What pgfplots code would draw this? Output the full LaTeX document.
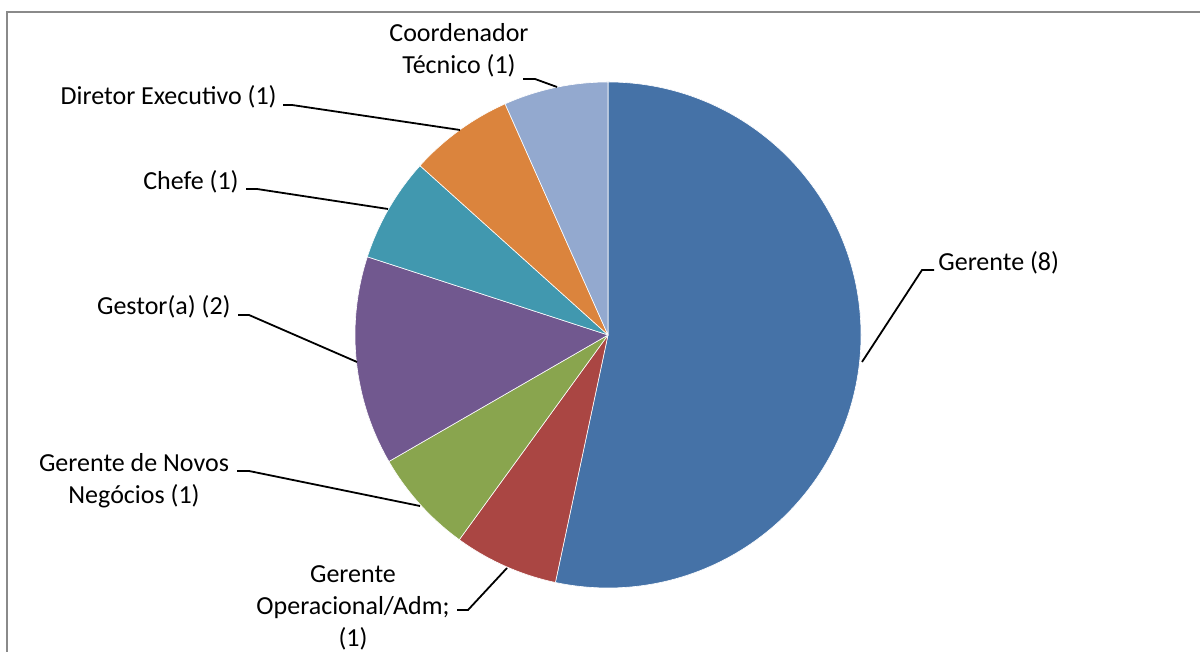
\documentclass[border=0pt]{standalone}
\usepackage{pgfplots}
\usepackage{pgfplotstable}
\pgfplotsset{compat=1.18}
\usepackage{fontspec}
\setmainfont{Carlito}
\definecolor{c0}{HTML}{4572A7}
\definecolor{c1}{HTML}{AA4643}
\definecolor{c2}{HTML}{89A54E}
\definecolor{c3}{HTML}{71588F}
\definecolor{c4}{HTML}{4198AF}
\definecolor{c5}{HTML}{DB843D}
\definecolor{c6}{HTML}{93A9CF}
\definecolor{framegray}{HTML}{8A8A8A}

\pgfplotstableread[col sep=comma]{
name,value
Gerente,8
Gerente Operacional/Adm;,1
Gerente de Novos Negocios,1
Gestor(a),2
Chefe,1
Diretor Executivo,1
Coordenador Tecnico,1
}\piedata

\begin{document}
\begin{tikzpicture}
% cumulative angles from the table (clockwise from 12 o'clock)
\def\total{0}
\pgfplotsforeachungrouped \i in {0,...,6}{%
  \pgfplotstablegetelem{\i}{value}\of\piedata
  \pgfmathsetmacro\total{\total+\pgfplotsretval}%
}
\def\startang{90}
\pgfplotsforeachungrouped \i in {0,...,6}{%
  \pgfplotstablegetelem{\i}{value}\of\piedata
  \pgfmathsetmacro\endang{\startang-360*\pgfplotsretval/\total}%
  \expandafter\xdef\csname sa\i\endcsname{\startang}%
  \expandafter\xdef\csname ea\i\endcsname{\endang}%
  \global\let\startang\endang
}
\begin{axis}[
  x=0.5pt, y=0.5pt,
  xmin=0, xmax=1200, ymin=0, ymax=652,
  hide axis, clip=false,
  scale only axis,
]
\coordinate (ll) at (axis cs:0,0);
\coordinate (ur) at (axis cs:1200,652);
% frame
\draw[framegray, line width=1.2pt] (axis cs:1200,640) -- (axis cs:7,640) -- (axis cs:7,0);
% slices
\pgfplotsinvokeforeach{0,...,6}{
  \filldraw[fill=c#1, draw=white, line width=0.3pt, line join=round]
    (axis cs:608,317) -- ++(\csname sa#1\endcsname:126.5pt)
    arc[start angle=\csname sa#1\endcsname, end angle=\csname ea#1\endcsname, radius=126.5pt] -- cycle;
}
% leader lines
\tikzset{lead/.style={black, line width=0.9pt}}
\draw[lead] (axis cs:862,290) -- (axis cs:922,382) -- (axis cs:934,382);
\draw[lead] (axis cs:283,547) -- (axis cs:292,547) -- (axis cs:460,522);
\draw[lead] (axis cs:246,463) -- (axis cs:257,463) -- (axis cs:388,443);
\draw[lead] (axis cs:238,337) -- (axis cs:249,337) -- (axis cs:357,290);
\draw[lead] (axis cs:237,181) -- (axis cs:249,181) -- (axis cs:420,146);
\draw[lead] (axis cs:457,42) -- (axis cs:468,42) -- (axis cs:507,84);
\draw[lead] (axis cs:523,573) -- (axis cs:535,573) -- (axis cs:557,565);
% labels
\tikzset{lab/.style={font=\fontsize{13}{16}\selectfont, inner sep=0pt, align=center, text=black}}
\node[lab, anchor=west] at (axis cs:938,389) {Gerente (8)};
\node[lab, anchor=east] at (axis cs:277,555) {Diretor Executivo (1)};
\node[lab, anchor=east] at (axis cs:239,470) {Chefe (1)};
\node[lab, anchor=east] at (axis cs:231,345) {Gestor(a) (2)};
\node[lab] at (axis cs:134,171) {Gerente de Novos\\Negócios (1)};
\node[lab] at (axis cs:353,44) {Gerente\\Operacional/Adm;\\(1)};
\node[lab] at (axis cs:459,602) {Coordenador\\Técnico (1)};
\end{axis}
\pgfresetboundingbox
\useasboundingbox (ll) rectangle (ur);
\end{tikzpicture}
\end{document}
